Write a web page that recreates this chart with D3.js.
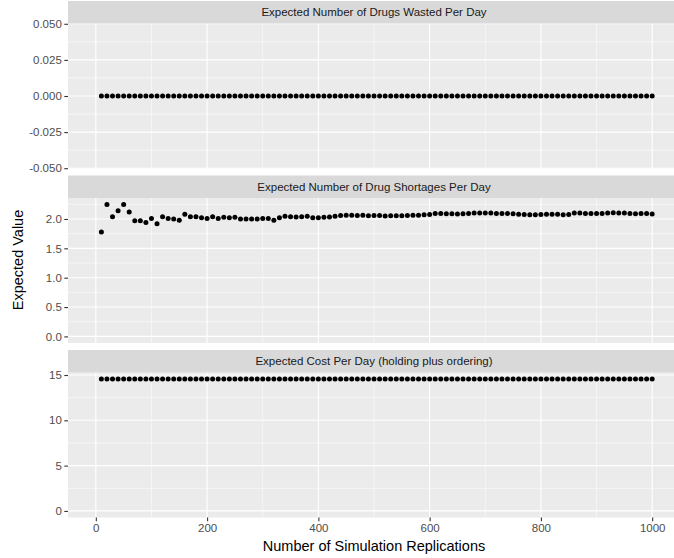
<!DOCTYPE html>
<html>
<head>
<meta charset="utf-8">
<script src="https://cdn.jsdelivr.net/npm/d3@7"></script>
<style>
  body { margin: 0; background: #fff; }
  svg { font-family: "Liberation Sans", Arial, sans-serif; }
</style>
</head>
<body>
<div id="vis"></div>
<script>
// replications on the x axis: 10, 20, ... 1000
const replications = [
  10, 20, 30, 40, 50, 60, 70, 80, 90, 100,
  110, 120, 130, 140, 150, 160, 170, 180, 190, 200,
  210, 220, 230, 240, 250, 260, 270, 280, 290, 300,
  310, 320, 330, 340, 350, 360, 370, 380, 390, 400,
  410, 420, 430, 440, 450, 460, 470, 480, 490, 500,
  510, 520, 530, 540, 550, 560, 570, 580, 590, 600,
  610, 620, 630, 640, 650, 660, 670, 680, 690, 700,
  710, 720, 730, 740, 750, 760, 770, 780, 790, 800,
  810, 820, 830, 840, 850, 860, 870, 880, 890, 900,
  910, 920, 930, 940, 950, 960, 970, 980, 990, 1000
];

// expected drugs wasted per day (all zero)
const wasted = replications.map(() => 0);

// expected shortages per day
const shortages = [
  1.78, 2.245, 2.04, 2.14, 2.245, 2.12, 1.97, 1.97, 1.94, 2.01,
  1.92, 2.04, 2.01, 2.00, 1.98, 2.08, 2.04, 2.04, 2.02, 2.01,
  2.04, 2.01, 2.03, 2.02, 2.03, 2.00, 2.00, 2.00, 2.00, 2.01,
  2.01, 1.98, 2.02, 2.045, 2.04, 2.035, 2.04, 2.045, 2.02, 2.02,
  2.03, 2.035, 2.045, 2.06, 2.065, 2.065, 2.06, 2.065, 2.055, 2.06,
  2.06, 2.05, 2.055, 2.055, 2.055, 2.06, 2.065, 2.065, 2.07, 2.075,
  2.095, 2.095, 2.09, 2.09, 2.085, 2.09, 2.095, 2.10, 2.10, 2.10,
  2.10, 2.095, 2.095, 2.095, 2.09, 2.08, 2.075, 2.07, 2.07, 2.075,
  2.08, 2.08, 2.08, 2.07, 2.075, 2.10, 2.10, 2.095, 2.095, 2.095,
  2.095, 2.10, 2.105, 2.10, 2.10, 2.095, 2.09, 2.095, 2.095, 2.085
];

// expected cost per day (holding plus ordering)
const cost = replications.map(() => 14.55);

const facetTitles = [
  'Expected Number of Drugs Wasted Per Day',
  'Expected Number of Drug Shortages Per Day',
  'Expected Cost Per Day (holding plus ordering)'
];

const xTicks = [0, 200, 400, 600, 800, 1000];
const xMinor = [100, 300, 500, 700, 900];

const yTicks = [
  [-0.05, -0.025, 0, 0.025, 0.05],
  [0, 0.5, 1.0, 1.5, 2.0],
  [0, 5, 10, 15]
];
const yMinor = [
  [-0.0375, -0.0125, 0.0125, 0.0375],
  [0.25, 0.75, 1.25, 1.75, 2.25],
  [2.5, 7.5, 12.5]
];

// plain hyphen minus sign, like R
let locale = d3.formatLocale({
  decimal: '.', thousands: '', grouping: [3], currency: ['', ''], minus: '-'
});
const yFormats = [locale.format('.3f'), locale.format('.1f'), locale.format('d')];

// layout
let width = 674;
let height = 558;
let panelLeft = 68;
let panelRight = 680;
let stripH = 22.5;
let panelH = 145;
let gap = 7;
let plotTop = 1;

let svg = d3.select('#vis').append('svg')
  .attr('width', width)
  .attr('height', height);

let x = d3.scaleLinear()
  .domain([-50, 1050])
  .range([panelLeft, panelRight]);

let seriesList = [wasted, shortages, cost];

seriesList.forEach(function (values, i) {
  let stripTop = plotTop + i * (stripH + panelH + gap);
  let pTop = stripTop + stripH;
  let pBottom = pTop + panelH;

  // y domain like ggplot: data range (with 0 for the lower two) plus 5%
  let lo, hi;
  if (i === 0) {
    lo = -0.0502; hi = 0.0502;
  } else {
    lo = 0;
    hi = d3.max(values);
    let pad = (hi - lo) * 0.05;
    lo -= pad; hi += pad;
  }
  let y = d3.scaleLinear().domain([lo, hi]).range([pBottom, pTop]);

  let g = svg.append('g');

  // panel background
  g.append('rect')
    .attr('x', panelLeft).attr('y', pTop)
    .attr('width', panelRight - panelLeft).attr('height', panelH)
    .attr('fill', '#EBEBEB');

  // minor grid
  g.selectAll('.ymin').data(yMinor[i]).join('line')
    .attr('class', 'ymin')
    .attr('x1', panelLeft).attr('x2', panelRight)
    .attr('y1', d => y(d)).attr('y2', d => y(d))
    .attr('stroke', '#fff').attr('stroke-width', 0.55);
  g.selectAll('.xmin').data(xMinor).join('line')
    .attr('class', 'xmin')
    .attr('y1', pTop).attr('y2', pBottom)
    .attr('x1', d => x(d)).attr('x2', d => x(d))
    .attr('stroke', '#fff').attr('stroke-width', 0.55);

  // major grid
  g.selectAll('.ymaj').data(yTicks[i]).join('line')
    .attr('class', 'ymaj')
    .attr('x1', panelLeft).attr('x2', panelRight)
    .attr('y1', d => y(d)).attr('y2', d => y(d))
    .attr('stroke', '#fff').attr('stroke-width', 1.1);
  g.selectAll('.xmaj').data(xTicks).join('line')
    .attr('class', 'xmaj')
    .attr('y1', pTop).attr('y2', pBottom)
    .attr('x1', d => x(d)).attr('x2', d => x(d))
    .attr('stroke', '#fff').attr('stroke-width', 1.1);

  // strip
  g.append('rect')
    .attr('x', panelLeft).attr('y', stripTop)
    .attr('width', panelRight - panelLeft).attr('height', stripH)
    .attr('fill', '#D9D9D9');
  g.append('text')
    .attr('x', x(500))
    .attr('y', stripTop + stripH / 2)
    .attr('dy', '0.35em')
    .attr('text-anchor', 'middle')
    .attr('fill', '#1A1A1A')
    .style('font-size', '11.5px')
    .text(facetTitles[i]);

  // points
  g.selectAll('circle').data(replications).join('circle')
    .attr('cx', d => x(d))
    .attr('cy', (d, j) => y(values[j]))
    .attr('r', 2.5)
    .attr('fill', '#000');

  // y axis
  let yAxis = d3.axisLeft(y)
    .tickValues(yTicks[i])
    .tickFormat(yFormats[i])
    .tickSize(3.7)
    .tickPadding(2.5);
  let ya = svg.append('g')
    .attr('transform', 'translate(' + panelLeft + ',0)')
    .call(yAxis);
  ya.select('.domain').remove();
  ya.selectAll('line').attr('stroke', '#333333').attr('stroke-width', 1.1);
  ya.selectAll('text')
    .attr('fill', '#4D4D4D')
    .style('font-size', '11.5px')
    .style('font-family', '"Liberation Sans", Arial, sans-serif');

  // x axis only on bottom panel
  if (i === seriesList.length - 1) {
    let xAxis = d3.axisBottom(x)
      .tickValues(xTicks)
      .tickFormat(locale.format('d'))
      .tickSize(3.7)
      .tickPadding(2.5);
    let xa = svg.append('g')
      .attr('transform', 'translate(0,' + pBottom + ')')
      .call(xAxis);
    xa.select('.domain').remove();
    xa.selectAll('line').attr('stroke', '#333333').attr('stroke-width', 1.1);
    xa.selectAll('text')
      .attr('fill', '#4D4D4D')
      .style('font-size', '11.5px')
      .style('font-family', '"Liberation Sans", Arial, sans-serif');

    svg.append('text')
      .attr('x', x(500))
      .attr('y', pBottom + 33)
      .attr('text-anchor', 'middle')
      .attr('fill', '#000')
      .style('font-size', '14.5px')
      .text('Number of Simulation Replications');
  }
});

// y axis title
svg.append('text')
  .attr('transform', 'translate(18,' + 260 + ') rotate(-90)')
  .attr('dy', '0.35em')
  .attr('text-anchor', 'middle')
  .attr('fill', '#000')
  .style('font-size', '14.5px')
  .text('Expected Value');
</script>
</body>
</html>
